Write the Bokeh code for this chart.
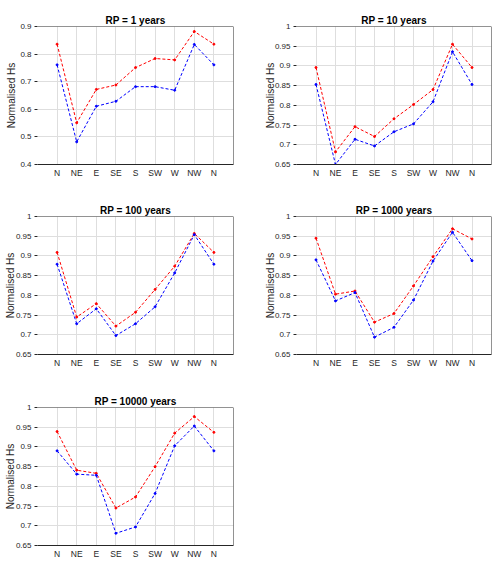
from bokeh.plotting import figure
from bokeh.layouts import column, row
from bokeh.models import FixedTicker, Span, Range1d
from bokeh.embed import file_html
from bokeh.resources import INLINE

directions = ["N", "NE", "E", "SE", "S", "SW", "W", "NW", "N"]
x_pos = [1, 2, 3, 4, 5, 6, 7, 8, 9]

titles = ["RP = 1 years", "RP = 10 years", "RP = 100 years",
          "RP = 1000 years", "RP = 10000 years"]

red_rp1 = [0.836, 0.551, 0.672, 0.688, 0.751, 0.784, 0.779, 0.882, 0.836]
blue_rp1 = [0.761, 0.482, 0.611, 0.629, 0.682, 0.682, 0.669, 0.835, 0.761]

red_rp10 = [0.896, 0.682, 0.746, 0.721, 0.766, 0.802, 0.840, 0.955, 0.896]
blue_rp10 = [0.853, 0.650, 0.714, 0.697, 0.733, 0.753, 0.809, 0.936, 0.853]

red_rp100 = [0.909, 0.745, 0.779, 0.722, 0.757, 0.815, 0.874, 0.957, 0.909]
blue_rp100 = [0.879, 0.728, 0.766, 0.698, 0.728, 0.771, 0.857, 0.954, 0.879]

red_rp1000 = [0.945, 0.803, 0.811, 0.732, 0.754, 0.824, 0.898, 0.969, 0.943]
blue_rp1000 = [0.890, 0.786, 0.807, 0.694, 0.719, 0.788, 0.887, 0.960, 0.888]

red_rp10000 = [0.939, 0.841, 0.833, 0.745, 0.773, 0.850, 0.935, 0.977, 0.937]
blue_rp10000 = [0.890, 0.831, 0.828, 0.681, 0.697, 0.782, 0.903, 0.953, 0.890]

yticks_a = [0.4, 0.5, 0.6, 0.7, 0.8, 0.9]
ylabels_a = ["0.4", "0.5", "0.6", "0.7", "0.8", "0.9"]
yticks_b = [0.65, 0.7, 0.75, 0.8, 0.85, 0.9, 0.95, 1.0]
ylabels_b = ["0.65", "0.7", "0.75", "0.8", "0.85", "0.9", "0.95", "1"]

FONT = "Liberation Sans"
DARK = "#262626"


def make_panel(title, red, blue, yticks, ylabels, width, height,
               bl, br, bt, bb, label_standoff):
    p = figure(width=width, height=height, output_backend="svg",
               toolbar_location=None,
               x_range=Range1d(0, 10),
               y_range=Range1d(yticks[0], yticks[-1]),
               min_border_left=bl, min_border_right=br,
               min_border_top=bt, min_border_bottom=bb)
    p.title.text = title
    p.title.align = "center"
    p.title.text_font = FONT
    p.title.text_font_size = "10px"
    p.title.text_font_style = "bold"
    p.title.text_color = "#000000"
    p.title.standoff = 2
    p.outline_line_color = None

    p.xaxis.ticker = FixedTicker(ticks=x_pos)
    p.xaxis.major_label_overrides = {x: d for x, d in zip(x_pos, directions)}
    p.xaxis.major_tick_out = 0
    p.xaxis.major_tick_in = 0
    p.xaxis.minor_tick_line_color = None
    p.xaxis.axis_line_color = DARK
    p.xaxis.major_label_text_font = FONT
    p.xaxis.major_label_text_font_size = "8.5px"
    p.xaxis.major_label_text_color = DARK
    p.xaxis.major_label_standoff = 3

    p.yaxis.ticker = FixedTicker(ticks=yticks)
    p.yaxis.major_label_overrides = {t: s for t, s in zip(yticks, ylabels)}
    p.yaxis.axis_line_color = None
    p.yaxis.major_tick_out = 3
    p.yaxis.major_tick_in = 0
    p.yaxis.major_tick_line_color = DARK
    p.yaxis.minor_tick_line_color = None
    p.yaxis.major_label_text_font = FONT
    p.yaxis.major_label_text_font_size = "8px"
    p.yaxis.major_label_text_color = DARK
    p.yaxis.major_label_standoff = 3
    p.yaxis.axis_label = "Normalised Hs"
    p.yaxis.axis_label_text_font = FONT
    p.yaxis.axis_label_text_font_size = "10px"
    p.yaxis.axis_label_text_font_style = "normal"
    p.yaxis.axis_label_text_color = DARK
    p.yaxis.axis_label_standoff = label_standoff

    p.xgrid.grid_line_color = "#dedede"
    p.ygrid.grid_line_color = "#dedede"

    p.add_layout(Span(location=yticks[-1], dimension="width",
                      line_color=DARK, line_width=1))
    p.add_layout(Span(location=10, dimension="height",
                      line_color=DARK, line_width=1))

    p.line(x_pos, red, line_color="red", line_width=1, line_dash="3 2")
    p.scatter(x_pos, red, size=2, color="red")
    p.line(x_pos, blue, line_color="blue", line_width=1, line_dash="3 2")
    p.scatter(x_pos, blue, size=2, color="blue")
    return p


p1 = make_panel(titles[0], red_rp1, blue_rp1, yticks_a, ylabels_a,
                247, 190, 37, 14, 26, 26, 0)
p2 = make_panel(titles[1], red_rp10, blue_rp10, yticks_b, ylabels_b,
                247, 190, 49, 3, 26, 26, -4)
p3 = make_panel(titles[2], red_rp100, blue_rp100, yticks_b, ylabels_b,
                247, 190, 37, 14, 26, 26, -3)
p4 = make_panel(titles[3], red_rp1000, blue_rp1000, yticks_b, ylabels_b,
                247, 190, 49, 3, 26, 26, -4)
p5 = make_panel(titles[4], red_rp10000, blue_rp10000, yticks_b, ylabels_b,
                247, 186, 37, 14, 27, 21, -3)

layout = column(row(p1, p2), row(p3, p4), p5)

open("out.html", "w").write(file_html(layout, INLINE))
